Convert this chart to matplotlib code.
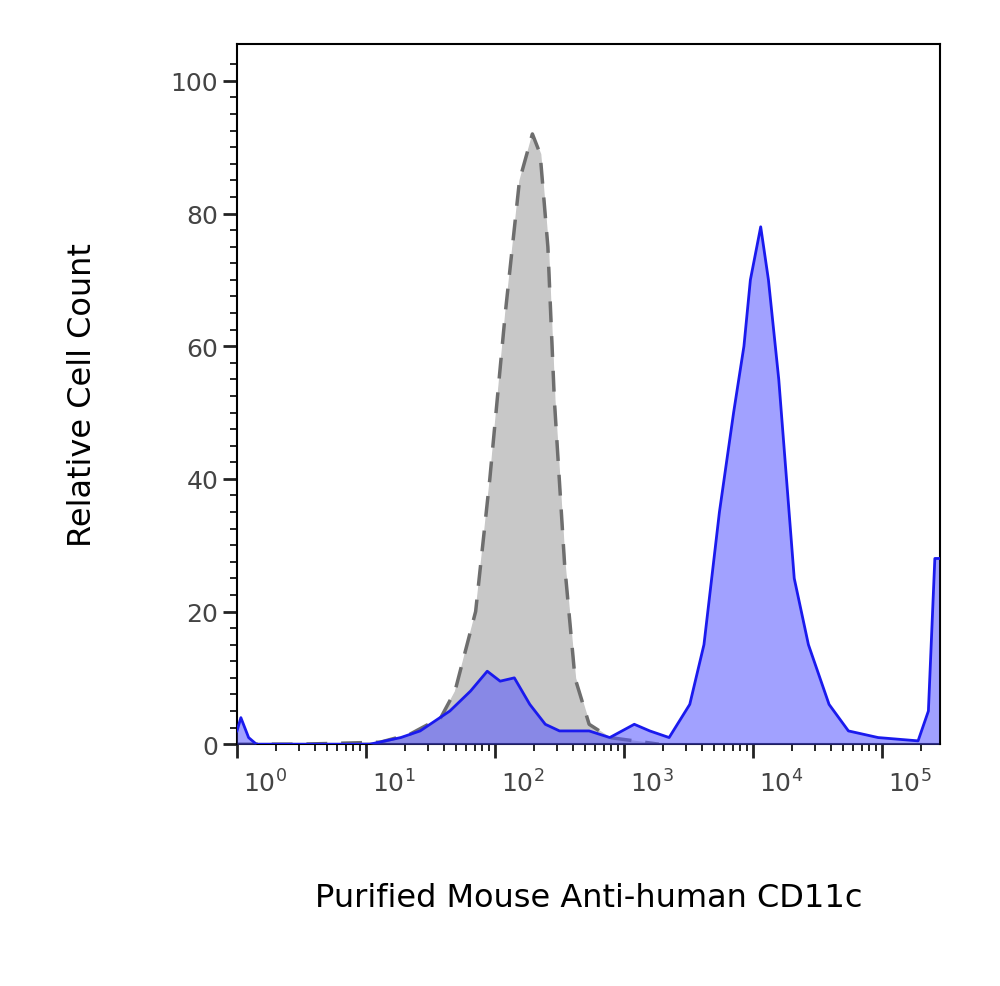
import numpy as np
import matplotlib.pyplot as plt
import matplotlib.transforms as mtransforms

# x in log10 units of fluorescence
gray_x = [0, 0.49, 1.11, 1.34, 1.58, 1.69, 1.77, 1.85, 1.96, 2.08, 2.19, 2.29, 2.35, 2.41, 2.46, 2.54, 2.62, 2.73, 2.89, 3.27]
gray_y = [0, 0, 0.3, 1.5, 4, 8, 14, 20, 40, 65, 85, 92, 89, 75, 52, 27, 10, 3, 1, 0]

blue_x = [0, 0.03, 0.09, 0.15, 1.03, 1.27, 1.42, 1.65, 1.81, 1.94, 2.04, 2.15, 2.27, 2.39, 2.50, 2.73, 2.89,
          3.08, 3.20, 3.35, 3.51, 3.62, 3.74, 3.85, 3.93, 3.98, 4.06, 4.12, 4.20, 4.32, 4.43, 4.59, 4.74,
          4.97, 5.28, 5.36, 5.41, 5.44]
blue_y = [2, 4, 1, 0, 0, 1, 2, 5, 8, 11, 9.5, 10, 6, 3, 2, 2, 1,
          3, 2, 1, 6, 15, 35, 50, 60, 70, 78, 70, 55, 25, 15, 6, 2,
          1, 0.5, 5, 28, 28]

decades = [0, 1, 2, 3, 4, 5]

fig = plt.figure(figsize=(10, 9.87), dpi=100)
ax = fig.add_axes([0.237, 0.245, 0.703, 0.709])

ax.fill_between(gray_x, gray_y, color='#c8c8c8', zorder=1)
ax.plot(gray_x, gray_y, color='#6e6e6e', lw=2.5, ls=(0, (6, 4)), zorder=2)
ax.fill_between(blue_x, blue_y, color='#5555ff', alpha=0.55, lw=0, zorder=3)
ax.plot(blue_x, blue_y, color='#1a1aee', lw=2, zorder=4)

ax.set_xlim(0, 5.45)
ax.set_ylim(0, 105.5)

ax.set_yticks([0, 20, 40, 60, 80, 100])
ax.set_yticks(np.arange(0, 105, 2.5), minor=True)
ax.set_xticks(decades)
ax.set_xticklabels(['$10^{%d}$' % d for d in decades])
minor = [d + np.log10(k) for d in range(0, 6) for k in range(2, 10) if d + np.log10(k) < 5.45]
ax.set_xticks(minor, minor=True)

ax.tick_params(axis='both', which='major', direction='out', length=10, width=2, labelsize=18, colors='#222222')
ax.tick_params(axis='both', which='minor', direction='out', length=5, width=1.2)
ax.tick_params(axis='y', labelcolor='#444444')
ax.tick_params(axis='x', labelcolor='#444444', pad=8)
offset = mtransforms.ScaledTranslation(0.28, 0, fig.dpi_scale_trans)
for lab in ax.get_xticklabels():
    lab.set_transform(lab.get_transform() + offset)

for s in ax.spines.values():
    s.set_linewidth(1.5)

ax.set_xlabel('Purified Mouse Anti-human CD11c', fontsize=23, labelpad=62)
ax.set_ylabel('Relative Cell Count', fontsize=23, labelpad=52)

fig.savefig('out.png')
